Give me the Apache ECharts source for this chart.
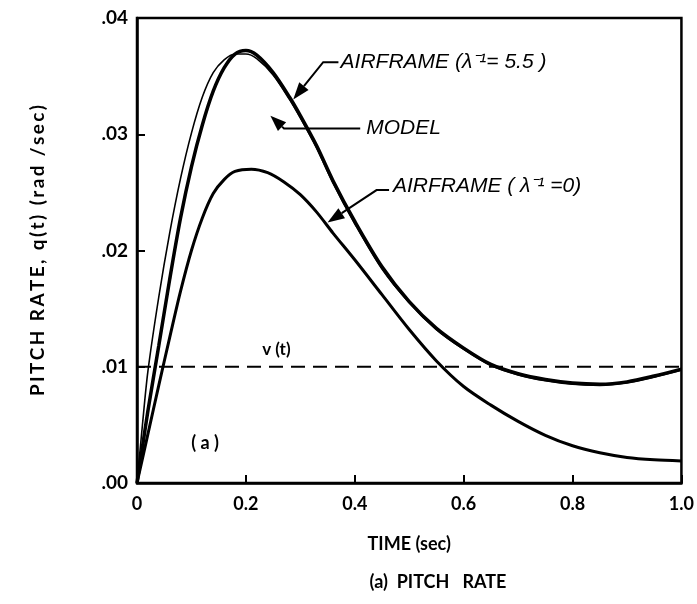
<!DOCTYPE html>
<html>
<head>
<meta charset="utf-8">
<script src="https://cdn.jsdelivr.net/npm/echarts@6/dist/echarts.min.js"></script>
<style>
html, body { margin: 0; padding: 0; background: #fff; }
#main { width: 697px; height: 604px; }
</style>
</head>
<body>
<div id="main"></div>
<script>
// time samples (sec)
var timeFast = [0, 0.01, 0.02, 0.04, 0.06, 0.08, 0.10, 0.12, 0.14, 0.16, 0.18, 0.20, 0.22, 0.25, 0.28, 0.30, 0.33, 0.36, 0.40, 0.45, 0.50, 0.55, 0.60, 0.65, 0.70, 0.75, 0.80, 0.85, 0.90, 0.95, 1.0];
var timeSlow = [0, 0.02, 0.04, 0.06, 0.08, 0.10, 0.12, 0.14, 0.16, 0.18, 0.21, 0.24, 0.27, 0.30, 0.33, 0.36, 0.40, 0.45, 0.50, 0.55, 0.60, 0.65, 0.70, 0.75, 0.80, 0.85, 0.90, 0.95, 1.0];
var timeCmd = [0, 1.0];

// pitch rate q(t) (rad/sec)
var airframe55 = [0, 0.0031, 0.0062, 0.0118, 0.0175, 0.0228, 0.0272, 0.0308, 0.0337, 0.0357, 0.0369, 0.0372, 0.0368, 0.0353, 0.0332, 0.0316, 0.0290, 0.0260, 0.0225, 0.0186, 0.0156, 0.0133, 0.0116, 0.0102, 0.0094, 0.0089, 0.0086, 0.0085, 0.0087, 0.0092, 0.0098];
var model = [0, 0.0050, 0.0096, 0.0160, 0.0215, 0.0262, 0.0301, 0.0332, 0.0353, 0.0364, 0.0369, 0.0369, 0.0365, 0.0351, 0.0330, 0.0314, 0.0288, 0.0258, 0.0223, 0.0184, 0.0155, 0.0132, 0.0115, 0.0101, 0.0093, 0.0088, 0.0085, 0.0084, 0.0086, 0.0091, 0.0097];
var airframe0 = [0, 0.0042, 0.0084, 0.0125, 0.0165, 0.0200, 0.0228, 0.0249, 0.0261, 0.0268, 0.0270, 0.0267, 0.0259, 0.0248, 0.0233, 0.0215, 0.0192, 0.0162, 0.0132, 0.0105, 0.0083, 0.0067, 0.0053, 0.0041, 0.0032, 0.0026, 0.0022, 0.0020, 0.0019];
var command = [0.01, 0.01];

// tick labels
var xTickLabels = ['0', '0.2', '0.4', '0.6', '0.8', '1.0'];
var yTickLabels = ['.00', '.01', '.02', '.03', '.04'];

function pairs(xs, ys) {
    return xs.map(function (x, i) { return [x, ys[i]]; });
}
// spread letters out a little, like the lettering on the original
function spaced(s) {
    return s.split('').join('\u2009');
}

var myChart = echarts.init(document.getElementById('main'));
var labelFont = 'Lato, "DejaVu Sans", sans-serif';
var noteFont = '"Liberation Sans", Arial, sans-serif';

myChart.setOption({
    animation: false,
    backgroundColor: '#fff',
    grid: {
        left: 137, right: 13, top: 18, bottom: 121,
        show: true, borderColor: '#000', borderWidth: 2.5
    },
    xAxis: {
        type: 'value', min: 0, max: 1, interval: 0.2,
        name: 'TIME (sec)', nameLocation: 'middle', nameGap: 52,
        nameTextStyle: { color: '#000', fontSize: 18, fontWeight: 'bold', fontFamily: labelFont },
        axisLine: { lineStyle: { color: '#000', width: 2.5 } },
        axisTick: { inside: true, length: 8, lineStyle: { color: '#000', width: 2 } },
        axisLabel: {
            color: '#000', fontSize: 18, fontWeight: 'bold', fontFamily: labelFont, margin: 12,
            formatter: function (v) { return xTickLabels[Math.round(v / 0.2)]; }
        },
        splitLine: { show: false }
    },
    yAxis: {
        type: 'value', min: 0, max: 0.04, interval: 0.01,
        name: spaced('PITCH RATE, q(t) (rad /sec)'), nameLocation: 'middle', nameGap: 90, nameRotate: 90,
        nameTextStyle: { color: '#000', fontSize: 19, fontWeight: 'bold', fontFamily: labelFont },
        axisLine: { lineStyle: { color: '#000', width: 2.5 } },
        axisTick: { inside: true, length: 8, lineStyle: { color: '#000', width: 2 } },
        axisLabel: {
            color: '#000', fontSize: 19, fontWeight: 'bold', fontFamily: labelFont, margin: 9,
            formatter: function (v) { return yTickLabels[Math.round(v / 0.01)]; }
        },
        splitLine: { show: false }
    },
    series: [
        {
            name: 'v(t)', type: 'line', data: pairs(timeCmd, command), showSymbol: false,
            lineStyle: { color: '#000', width: 2, type: [14, 8] }
        },
        {
            name: 'AIRFRAME 5.5', type: 'line', data: pairs(timeFast, airframe55), showSymbol: false, smooth: 0.3,
            lineStyle: { color: '#000', width: 3.5 }
        },
        {
            name: 'MODEL', type: 'line', data: pairs(timeFast, model), showSymbol: false, smooth: 0.3,
            lineStyle: { color: '#000', width: 1.6 }
        },
        {
            name: 'AIRFRAME 0', type: 'line', data: pairs(timeSlow, airframe0), showSymbol: false, smooth: 0.3,
            lineStyle: { color: '#000', width: 3 }
        }
    ]
});

// annotation leaders, in data coordinates
function px(p) { return myChart.convertToPixel({ gridIndex: 0 }, p); }
function arrow(path, tipLen, half) {
    var pts = path.map(px);
    var tip = pts[pts.length - 1], prev = pts[pts.length - 2];
    var dx = tip[0] - prev[0], dy = tip[1] - prev[1];
    var d = Math.sqrt(dx * dx + dy * dy);
    var ux = dx / d, uy = dy / d;
    var bx = tip[0] - ux * tipLen, by = tip[1] - uy * tipLen;
    return [
        { type: 'polyline', shape: { points: pts.slice(0, -1).concat([[bx, by]]) }, style: { stroke: '#000', lineWidth: 2, fill: null } },
        { type: 'polygon', shape: { points: [tip, [bx - uy * half, by + ux * half], [bx + uy * half, by - ux * half]] }, style: { fill: '#000' } }
    ];
}
function note(text, at, opts) {
    var p = px(at);
    return {
        type: 'text', x: p[0], y: p[1],
        style: Object.assign({ text: text, fill: '#000', font: 'italic 21px ' + noteFont, verticalAlign: 'middle' }, opts || {})
    };
}

var graphics = [];
graphics = graphics.concat(arrow([[0.370, 0.0362], [0.342, 0.0362], [0.287, 0.0330]], 17, 6));
graphics = graphics.concat(arrow([[0.410, 0.0305], [0.270, 0.0305], [0.245, 0.0316]], 16, 6));
graphics = graphics.concat(arrow([[0.463, 0.0252], [0.440, 0.0252], [0.350, 0.0224]], 17, 6));
graphics.push(note('AIRFRAME (λ⁻¹= 5.5 )', [0.374, 0.0362]));
graphics.push(note('MODEL', [0.421, 0.0305]));
graphics.push(note('AIRFRAME ( λ⁻¹ =0)', [0.470, 0.0255]));
graphics.push(note('v (t)', [0.256, 0.0115], { font: 'bold 17px ' + labelFont, align: 'center' }));
graphics.push(note('( a )', [0.125, 0.0034], { font: 'bold 18px ' + labelFont, align: 'center' }));
graphics.push({
    type: 'text', x: 438, y: 582,
    style: { text: '(a)  PITCH   RATE', fill: '#000', font: 'bold 18px ' + labelFont, align: 'center', verticalAlign: 'middle' }
});
myChart.setOption({ graphic: graphics });
</script>
</body>
</html>
